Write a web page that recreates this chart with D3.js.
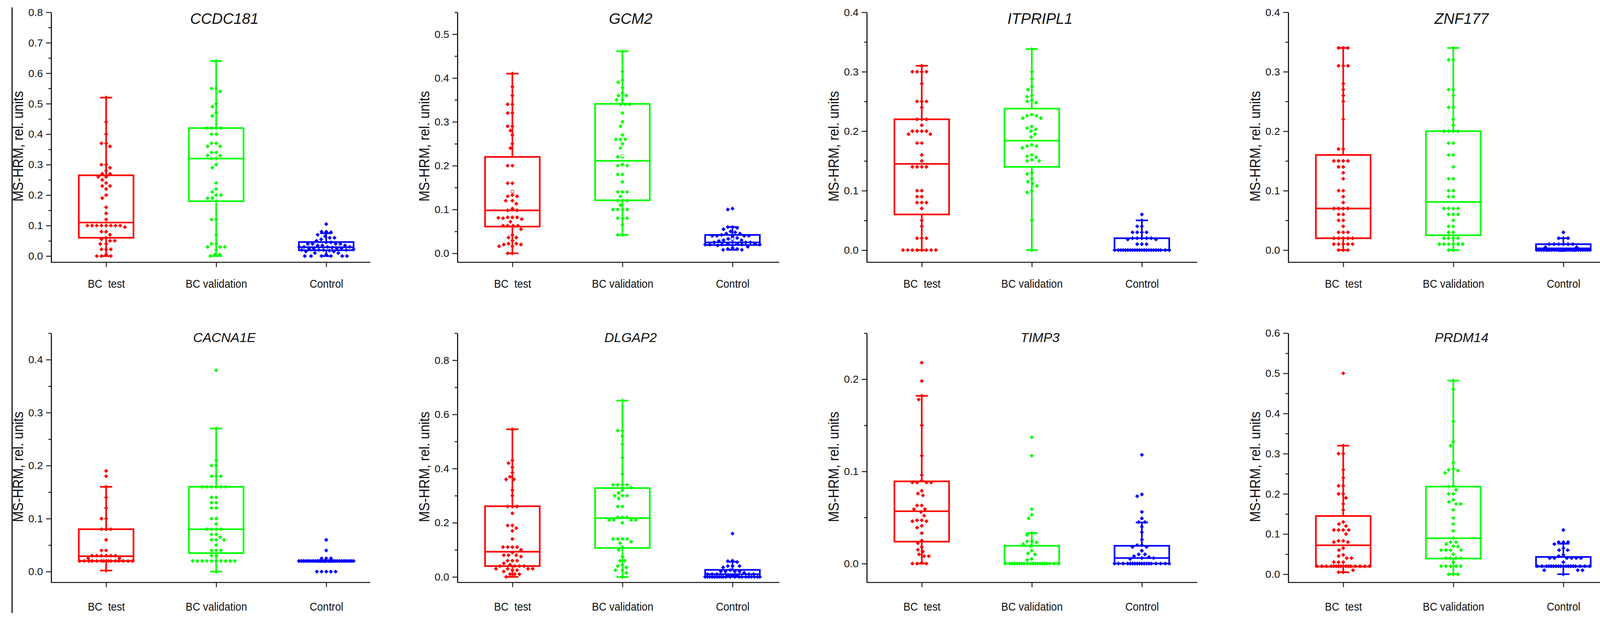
<!DOCTYPE html>
<html><head><meta charset="utf-8">
<script src="https://cdn.jsdelivr.net/npm/d3@7"></script>
<style>
html,body{margin:0;padding:0;background:#fff;}
svg{display:block;}
text{font-family:"Liberation Sans",Arial,sans-serif;fill:#111;}
</style></head>
<body>
<script>
// ---------------- DATA ----------------
const groups = ["BC  test", "BC validation", "Control"];
const genes = ["CCDC181", "GCM2", "ITPRIPL1", "ZNF177", "CACNA1E", "DLGAP2", "TIMP3", "PRDM14"];
const yMax = [0.8, 0.55, 0.4, 0.4, 0.45, 0.9, 0.25, 0.6];
const yMin = -0.0205;
const majorStep = [0.1, 0.1, 0.1, 0.1, 0.1, 0.2, 0.1, 0.1];
const yLabel = "MS-HRM, rel. units";
const colors = ["#ff0000", "#00ff00", "#0000ff"];

// box stats per group: [whisker low, q1, median, q3, whisker high]
const CCDC181_box = [[0,0.06,0.11,0.265,0.52],[0,0.18,0.32,0.42,0.64],[0,0.019,0.029,0.046,0.075]];
const GCM2_box = [[0,0.061,0.098,0.22,0.41],[0.042,0.121,0.211,0.341,0.461],[0.008,0.019,0.025,0.042,0.06]];
const ITPRIPL1_box = [[0,0.06,0.145,0.22,0.31],[0,0.14,0.184,0.238,0.338],[0,0,0,0.02,0.05]];
const ZNF177_box = [[0,0.02,0.07,0.16,0.34],[0,0.025,0.081,0.20,0.34],[0,0,0.003,0.01,0.02]];
const CACNA1E_box = [[0.002,0.02,0.029,0.08,0.16],[0,0.035,0.08,0.16,0.27],[0.02,0.019,0.02,0.021,0.02]];
const DLGAP2_box = [[0,0.04,0.093,0.261,0.545],[0,0.107,0.217,0.328,0.651],[0,0,0.01,0.026,0.056]];
const TIMP3_box = [[0,0.0238,0.0568,0.0892,0.182],[0,0,0,0.0193,0.033],[0,0,0.006,0.0193,0.0446]];
const PRDM14_box = [[0.005,0.019,0.072,0.145,0.32],[0,0.039,0.0895,0.218,0.482],[0,0.019,0.02,0.043,0.076]];

const GCM2_mean = [0.141, 0.222, 0.033];

// individual points
const CCDC181_test = [0.52,0.44,0.40,0.37,0.37,0.36,0.30,0.30,0.29,0.28,0.27,0.27,0.26,0.26,0.25,0.24,0.23,0.23,0.22,0.20,0.19,0.16,0.14,0.12,0.10,0.10,0.10,0.10,0.10,0.10,0.10,0.10,0.095,0.08,0.08,0.07,0.06,0.055,0.05,0.05,0.04,0.04,0.022,0.022,0.022,0.005,0,0,0];
const CCDC181_val = [0.64,0.55,0.55,0.54,0.50,0.49,0.47,0.46,0.42,0.42,0.42,0.42,0.40,0.40,0.37,0.37,0.36,0.36,0.34,0.34,0.33,0.33,0.32,0.32,0.30,0.29,0.24,0.22,0.21,0.20,0.20,0.19,0.19,0.18,0.12,0.12,0.07,0.04,0.04,0.03,0.03,0.03,0.02,0.005,0.005,0];
const CCDC181_ctrl = [0.105,0.08,0.08,0.078,0.07,0.065,0.06,0.06,0.055,0.05,0.045,0.045,0.04,0.04,0.04,0.04,0.035,0.035,0.035,0.03,0.03,0.03,0.03,0.028,0.025,0.025,0.025,0.025,0.022,0.02,0.02,0.02,0.02,0.018,0.015,0.015,0.01,0.01,0.005,0,0,0,0,0,0];

const GCM2_test = [0.41,0.38,0.36,0.34,0.34,0.32,0.32,0.29,0.29,0.28,0.27,0.25,0.24,0.20,0.20,0.16,0.16,0.133,0.13,0.13,0.12,0.12,0.113,0.102,0.098,0.098,0.082,0.082,0.082,0.08,0.078,0.081,0.072,0.063,0.063,0.063,0.063,0.055,0.042,0.036,0.036,0.029,0.022,0.022,0.02,0.02,0.016,0.016,0,0];
const GCM2_val = [0.46,0.415,0.395,0.39,0.378,0.366,0.36,0.36,0.35,0.35,0.34,0.34,0.34,0.32,0.30,0.29,0.27,0.26,0.26,0.26,0.25,0.24,0.22,0.22,0.203,0.20,0.20,0.18,0.18,0.163,0.14,0.14,0.14,0.13,0.12,0.12,0.12,0.11,0.10,0.10,0.10,0.10,0.08,0.08,0.08,0.065,0.042,0.042];
const GCM2_ctrl = [0.102,0.10,0.06,0.06,0.058,0.055,0.05,0.048,0.045,0.045,0.042,0.04,0.04,0.04,0.04,0.038,0.035,0.033,0.03,0.03,0.028,0.025,0.025,0.025,0.025,0.022,0.022,0.022,0.02,0.02,0.02,0.02,0.02,0.018,0.015,0.012,0.01,0.01,0.008,0.008];

const ITPRIPL1_test = [0.31,0.30,0.30,0.30,0.30,0.28,0.25,0.25,0.25,0.24,0.22,0.22,0.22,0.21,0.20,0.20,0.20,0.20,0.195,0.195,0.18,0.18,0.16,0.15,0.14,0.14,0.14,0.14,0.10,0.10,0.09,0.09,0.08,0.08,0.08,0.07,0.05,0.04,0.02,0.02,0.02,0,0,0,0,0,0,0,0];
const ITPRIPL1_val = [0.338,0.30,0.288,0.275,0.27,0.26,0.258,0.252,0.25,0.248,0.228,0.226,0.226,0.222,0.222,0.208,0.205,0.203,0.20,0.195,0.19,0.177,0.175,0.175,0.172,0.16,0.158,0.156,0.152,0.15,0.15,0.13,0.128,0.12,0.115,0.112,0.108,0.10,0.097,0.05,0];
const ITPRIPL1_ctrl = [0.06,0.05,0.04,0.04,0.03,0.03,0.03,0.03,0.02,0.02,0.02,0.02,0.02,0.018,0.018,0.01,0.01,0.01,0,0,0,0,0,0,0,0,0,0,0,0,0,0,0,0,0,0,0,0,0,0];

const ZNF177_test = [0.34,0.34,0.34,0.31,0.31,0.31,0.28,0.27,0.26,0.25,0.22,0.17,0.17,0.15,0.15,0.15,0.15,0.14,0.14,0.13,0.12,0.10,0.10,0.09,0.08,0.07,0.07,0.07,0.07,0.06,0.06,0.05,0.05,0.04,0.03,0.03,0.03,0.02,0.02,0.02,0.02,0.02,0.01,0.01,0.01,0.01,0.01,0,0,0];
const ZNF177_val = [0.34,0.32,0.32,0.27,0.27,0.26,0.24,0.24,0.22,0.21,0.20,0.20,0.20,0.20,0.18,0.18,0.16,0.16,0.14,0.12,0.12,0.10,0.10,0.09,0.09,0.07,0.07,0.07,0.07,0.06,0.06,0.06,0.05,0.04,0.04,0.03,0.03,0.02,0.02,0.02,0.02,0.01,0.01,0.01,0.01,0.01,0.01,0,0];
const ZNF177_ctrl = [0.03,0.02,0.02,0.02,0.01,0.01,0.01,0.01,0.01,0.01,0.005,0.005,0,0,0,0,0,0,0,0,0,0,0,0,0,0,0,0,0,0,0,0,0,0,0,0,0,0,0,0];

const CACNA1E_test = [0.19,0.18,0.16,0.14,0.12,0.10,0.10,0.08,0.08,0.08,0.06,0.04,0.04,0.03,0.03,0.03,0.03,0.03,0.03,0.025,0.025,0.02,0.02,0.02,0.02,0.02,0.02,0.02,0.02,0.02,0.02,0.02,0.02,0.02,0.02,0.02,0.002];
const CACNA1E_val = [0.38,0.27,0.21,0.20,0.20,0.18,0.18,0.18,0.16,0.16,0.16,0.16,0.16,0.16,0.14,0.14,0.13,0.13,0.12,0.12,0.10,0.10,0.09,0.08,0.08,0.08,0.08,0.07,0.07,0.065,0.06,0.06,0.06,0.05,0.04,0.04,0.04,0.03,0.03,0.02,0.02,0.02,0.02,0.02,0.02,0.02,0.02,0.02,0.02,0];
const CACNA1E_ctrl = [0.06,0.04,0.025,0.025,0.025,0.02,0.02,0.02,0.02,0.02,0.02,0.02,0.02,0.02,0.02,0.02,0.02,0.02,0.02,0.02,0.02,0.02,0.02,0.02,0.02,0.02,0.02,0.02,0.02,0.02,0.02,0.02,0.02,0,0,0,0,0];

const DLGAP2_test = [0.545,0.43,0.42,0.405,0.385,0.37,0.36,0.36,0.32,0.30,0.26,0.26,0.26,0.235,0.19,0.19,0.18,0.17,0.14,0.11,0.11,0.11,0.11,0.10,0.09,0.08,0.08,0.08,0.075,0.06,0.06,0.06,0.05,0.045,0.04,0.04,0.04,0.04,0.03,0.03,0.03,0.03,0.025,0.025,0.02,0.01,0.01,0.01,0];
const DLGAP2_val = [0.651,0.54,0.54,0.52,0.49,0.44,0.38,0.34,0.34,0.34,0.34,0.33,0.32,0.31,0.30,0.30,0.30,0.29,0.26,0.26,0.22,0.22,0.22,0.21,0.21,0.21,0.21,0.20,0.14,0.14,0.14,0.14,0.13,0.125,0.11,0.10,0.075,0.06,0.06,0.045,0.04,0.035,0.025,0.025,0.015,0];
const DLGAP2_ctrl = [0.16,0.06,0.058,0.055,0.04,0.04,0.04,0.035,0.025,0.02,0.02,0.02,0.02,0.015,0.01,0.01,0.01,0.01,0.01,0.005,0.005,0.005,0,0,0,0,0,0,0,0,0,0,0,0,0,0,0,0,0,0,0,0];

const TIMP3_test = [0.218,0.198,0.182,0.178,0.15,0.117,0.096,0.09,0.088,0.088,0.088,0.088,0.079,0.076,0.074,0.063,0.063,0.059,0.059,0.056,0.052,0.047,0.047,0.046,0.046,0.041,0.039,0.033,0.025,0.022,0.018,0.015,0.013,0.01,0.008,0.008,0.001,0,0,0];
const TIMP3_val = [0.137,0.117,0.059,0.053,0.049,0.033,0.031,0.024,0.024,0.023,0.021,0.019,0.014,0.011,0.01,0.005,0.004,0,0,0,0,0,0,0,0,0,0,0,0,0,0,0,0,0,0,0,0];
const TIMP3_ctrl = [0.118,0.075,0.073,0.056,0.049,0.045,0.045,0.04,0.034,0.026,0.02,0.02,0.018,0.018,0.014,0.01,0.01,0.008,0.007,0.006,0.006,0.005,0,0,0,0,0,0,0,0,0,0,0,0,0,0,0,0,0,0];

const PRDM14_test = [0.50,0.32,0.30,0.30,0.26,0.24,0.22,0.22,0.20,0.20,0.19,0.175,0.16,0.13,0.125,0.12,0.11,0.11,0.11,0.11,0.10,0.083,0.083,0.08,0.08,0.065,0.06,0.048,0.045,0.04,0.04,0.03,0.03,0.03,0.02,0.02,0.02,0.02,0.02,0.02,0.02,0.02,0.02,0.02,0.02,0.02,0.02,0.02,0.02,0.02,0.01,0.005,0.005];
const PRDM14_val = [0.482,0.46,0.38,0.33,0.32,0.278,0.262,0.26,0.258,0.252,0.22,0.218,0.21,0.20,0.20,0.185,0.18,0.175,0.175,0.16,0.14,0.125,0.108,0.09,0.08,0.08,0.075,0.07,0.069,0.06,0.06,0.06,0.06,0.05,0.04,0.04,0.04,0.04,0.03,0.02,0.02,0.02,0.02,0.02,0,0,0];
const PRDM14_ctrl = [0.11,0.08,0.08,0.08,0.075,0.065,0.06,0.06,0.048,0.045,0.04,0.04,0.04,0.04,0.04,0.04,0.03,0.02,0.02,0.02,0.02,0.02,0.02,0.02,0.02,0.02,0.02,0.02,0.02,0.02,0.02,0.02,0.02,0.02,0.02,0.01,0.01,0.01,0];

const pointsByGene = {
  CCDC181:[CCDC181_test,CCDC181_val,CCDC181_ctrl], GCM2:[GCM2_test,GCM2_val,GCM2_ctrl],
  ITPRIPL1:[ITPRIPL1_test,ITPRIPL1_val,ITPRIPL1_ctrl], ZNF177:[ZNF177_test,ZNF177_val,ZNF177_ctrl],
  CACNA1E:[CACNA1E_test,CACNA1E_val,CACNA1E_ctrl], DLGAP2:[DLGAP2_test,DLGAP2_val,DLGAP2_ctrl],
  TIMP3:[TIMP3_test,TIMP3_val,TIMP3_ctrl], PRDM14:[PRDM14_test,PRDM14_val,PRDM14_ctrl]
};
const boxByGene = {CCDC181:CCDC181_box,GCM2:GCM2_box,ITPRIPL1:ITPRIPL1_box,ZNF177:ZNF177_box,
  CACNA1E:CACNA1E_box,DLGAP2:DLGAP2_box,TIMP3:TIMP3_box,PRDM14:PRDM14_box};
const meanByGene = {GCM2:GCM2_mean};

// ---------------- LAYOUT ----------------
const W = 4160, H = 1586;
const axisXs = [131, 1171, 2219, 3298];
const axisEnds = [948, 1995, 3065, 4158];
const rowTop = [31.4, 852.2], rowBottom = [671, 1490];
const labelOffset = [65, 72];
const titleBase = [61, 875];
const titleSize = [38.5, 34];
const catOff0 = 140.7, catOff2 = 704.2;
const boxHalf = 70, capHalf = 15.6, markD = 12;

const svg = d3.select("body").append("svg").attr("width", W).attr("height", H)
  .attr("viewBox", `0 0 ${W} ${H}`);
svg.append("rect").attr("width", W).attr("height", H).attr("fill", "#fff");

// left border line
svg.append("line").attr("x1", 31).attr("x2", 31).attr("y1", 19).attr("y2", 1568)
  .attr("stroke", "#111").attr("stroke-width", 3);

function beeswarm(values, y) {
  const placed = [];
  const cands = d3.range(-boxHalf, boxHalf + 0.1, 1).sort((a, b) => Math.abs(a) - Math.abs(b) || a - b);
  values.forEach((v) => {
    const py = y(v);
    let best = null, bestScore = -1;
    for (const c of cands) {
      let md = Infinity;
      for (const p of placed) {
        const d = Math.hypot(p.x - c, p.y - py);
        if (d < md) md = d;
      }
      if (md >= markD) { best = c; bestScore = Infinity; break; }
      if (md > bestScore) { bestScore = md; best = c; }
    }
    placed.push({x: best, y: py, v});
  });
  return placed;
}

const diamond = d3.symbol().type(d3.symbolSquare).size(56)();

genes.forEach((gene, gi) => {
  const row = Math.floor(gi / 4), col = gi % 4;
  const ax = axisXs[col], aEnd = axisEnds[col];
  const y = d3.scaleLinear().domain([yMin, yMax[gi]]).range([rowBottom[row], rowTop[row]]);
  const x = d3.scalePoint().domain(groups).range([ax + catOff0, ax + catOff2]);
  const g = svg.append("g");

  // y axis
  const step = majorStep[gi];
  const majors = d3.range(0, yMax[gi] + 1e-9, step).map(v => +v.toFixed(3));
  const minors = d3.range(step / 2, yMax[gi] + 1e-9, step).map(v => +v.toFixed(3));
  const yMinorG = g.append("g").attr("transform", `translate(${ax},0)`)
    .call(d3.axisLeft(y).tickValues(minors).tickSize(7).tickSizeOuter(0).tickFormat(""));
  yMinorG.select(".domain").remove();
  yMinorG.selectAll(".tick line").attr("stroke", "#222").attr("stroke-width", 2.5);
  const yG = g.append("g").attr("transform", `translate(${ax},0)`)
    .call(d3.axisLeft(y).tickValues(majors).tickSize(13).tickSizeOuter(0).tickFormat(d3.format(".1f")));
  yG.select(".domain").attr("stroke", "#111").attr("stroke-width", 2.8);
  yG.selectAll(".tick line").attr("stroke", "#222").attr("stroke-width", 2.5);
  yG.selectAll(".tick text").attr("x", 0).attr("dy", "0.35em")
    .attr("transform", "translate(-21,0) scale(1.08,1)")
    .attr("font-size", 25).attr("fill", "#111")
    .attr("font-family", "'Liberation Sans',Arial,sans-serif");

  // x axis
  const xG = g.append("g").attr("transform", `translate(0,${rowBottom[row]})`)
    .call(d3.axisBottom(x).tickSize(12).tickSizeOuter(0));
  xG.select(".domain").attr("d", `M${ax},0H${aEnd}`).attr("stroke", "#111").attr("stroke-width", 2.5);
  xG.selectAll(".tick line").attr("stroke", "#222").attr("stroke-width", 2.5);
  xG.selectAll(".tick text").attr("y", labelOffset[row]).attr("dy", 0)
    .attr("font-size", 29).attr("fill", "#111").style("white-space", "pre")
    .attr("transform", "scale(0.92,1)")
    .attr("font-family", "'Liberation Sans',Arial,sans-serif");

  // title
  g.append("text").attr("x", x(groups[1]) + 21).attr("y", titleBase[row])
    .attr("text-anchor", "middle").attr("font-style", "italic")
    .attr("font-size", titleSize[row]).text(gene);

  // y label
  const midY = (rowTop[row] + rowBottom[row]) / 2 + 23;
  g.append("text").attr("transform", `translate(${ax - 85},${midY}) scale(1.1,1) rotate(-90)`)
    .attr("text-anchor", "middle").attr("dy", "0.35em").attr("font-size", 33.5)
    .attr("fill", "#111").text(yLabel);

  // boxes
  const boxes = boxByGene[gene], pts = pointsByGene[gene];
  groups.forEach((grp, k) => {
    const [wl, q1, md, q3, wh] = boxes[k];
    const cx = x(grp), c = colors[k];
    const bg = g.append("g");
    bg.append("line").attr("x1", cx).attr("x2", cx).attr("y1", y(q3)).attr("y2", y(wh))
      .attr("stroke", c).attr("stroke-width", 4.2);
    bg.append("line").attr("x1", cx).attr("x2", cx).attr("y1", y(q1)).attr("y2", y(wl))
      .attr("stroke", c).attr("stroke-width", 4.2);
    [wl, wh].forEach(v => bg.append("line").attr("x1", cx - capHalf).attr("x2", cx + capHalf)
      .attr("y1", y(v)).attr("y2", y(v)).attr("stroke", c).attr("stroke-width", 4.2));
    bg.append("rect").attr("x", cx - boxHalf).attr("width", boxHalf * 2)
      .attr("y", y(q3)).attr("height", Math.max(0.5, y(q1) - y(q3)))
      .attr("fill", "none").attr("stroke", c).attr("stroke-width", 4.2);
    bg.append("line").attr("x1", cx - boxHalf).attr("x2", cx + boxHalf)
      .attr("y1", y(md)).attr("y2", y(md)).attr("stroke", c).attr("stroke-width", 4.2);

    const sw = beeswarm(pts[k], y);
    bg.selectAll("path.pt").data(sw).join("path").attr("class", "pt")
      .attr("d", diamond)
      .attr("transform", d => `translate(${cx + d.x},${d.y}) rotate(45)`)
      .attr("fill", c);

    const means = meanByGene[gene];
    if (means) {
      bg.append("rect").attr("x", cx - 3.5).attr("y", y(means[k]) - 3.5)
        .attr("width", 7).attr("height", 7).attr("fill", "#fff")
        .attr("stroke", c).attr("stroke-width", 1.2);
    }
  });
});
</script>
</body></html>
